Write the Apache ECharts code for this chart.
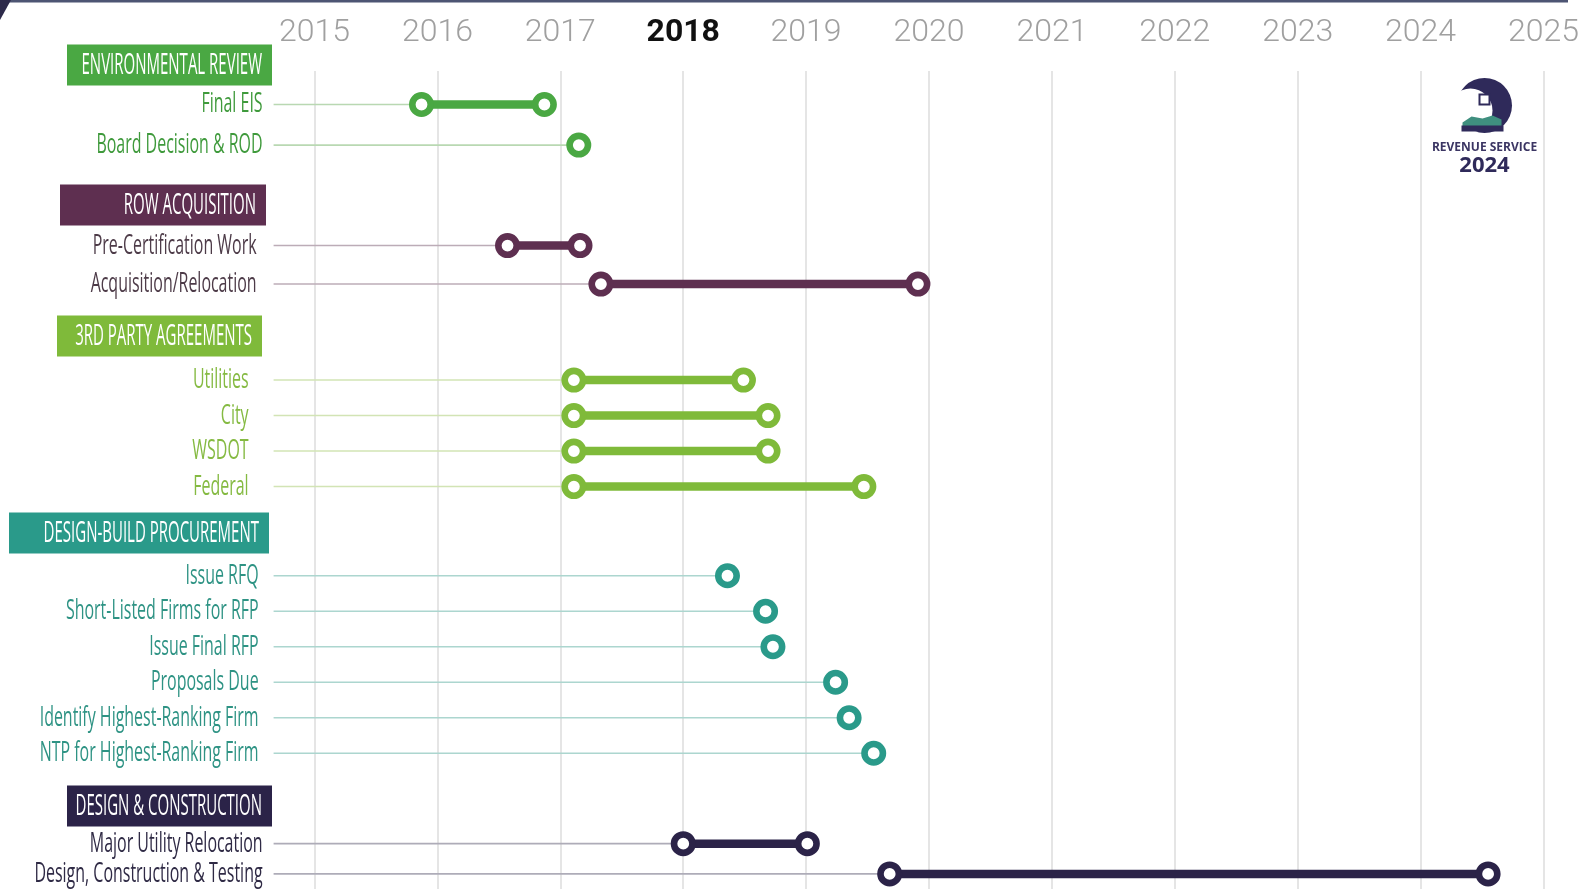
<!DOCTYPE html>
<html>
<head>
<meta charset="utf-8">
<script src="https://cdn.jsdelivr.net/npm/echarts@6/dist/echarts.min.js"></script>
<style>html,body{margin:0;padding:0;background:#fff;}#chart{width:1591px;height:889px;}</style>
</head>
<body>
<div id="chart"></div>
<script>
// ---- data ----
const years = [2015, 2016, 2017, 2018, 2019, 2020, 2021, 2022, 2023, 2024, 2025];
const highlightYear = 2018;

const groupTitles = ['ENVIRONMENTAL REVIEW', 'ROW ACQUISITION', '3RD PARTY AGREEMENTS', 'DESIGN-BUILD PROCUREMENT', 'DESIGN & CONSTRUCTION'];

const envRows  = ['Final EIS', 'Board Decision & ROD'];
const envStart = [2015.87, 2017.15];
const envEnd   = [2016.87, null];

const rowRows  = ['Pre-Certification Work', 'Acquisition/Relocation'];
const rowStart = [2016.57, 2017.33];
const rowEnd   = [2017.16, 2019.91];

const tpaRows  = ['Utilities', 'City', 'WSDOT', 'Federal'];
const tpaStart = [2017.11, 2017.11, 2017.11, 2017.11];
const tpaEnd   = [2018.49, 2018.69, 2018.69, 2019.47];

const dbpRows  = ['Issue RFQ', 'Short-Listed Firms for RFP', 'Issue Final RFP', 'Proposals Due', 'Identify Highest-Ranking Firm', 'NTP for Highest-Ranking Firm'];
const dbpStart = [2018.36, 2018.67, 2018.73, 2019.24, 2019.35, 2019.55];
const dbpEnd   = [null, null, null, null, null, null];

const dcRows   = ['Major Utility Relocation', 'Design, Construction & Testing'];
const dcStart  = [2018.00, 2019.68];
const dcEnd    = [2019.01, 2024.55];

const badgeTitle = 'REVENUE SERVICE';
const badgeYear = '2024';

// ---- styles / layout ----
const groups = [
  {rows: envRows, start: envStart, end: envEnd, color: '#4aa843', text: '#3f9a3c', guide: '#b9d8b2',
   top: 84.2, rowH: 40.6, labelGap: 52, box: [67, 272, 65]},
  {rows: rowRows, start: rowStart, end: rowEnd, color: '#5e2f50', text: '#4d3b48', guide: '#bcacb7',
   top: 226.3, rowH: 38.5, labelGap: 58, box: [60, 266, 205]},
  {rows: tpaRows, start: tpaStart, end: tpaEnd, color: '#7fba3a', text: '#85ba42', guide: '#d2e4b5',
   top: 362.3, rowH: 35.5, labelGap: 66, box: [57, 262, 336]},
  {rows: dbpRows, start: dbpStart, end: dbpEnd, color: '#2a9a8a', text: '#2e9384', guide: '#acd6cf',
   top: 558, rowH: 35.5, labelGap: 56, box: [9, 269, 533]},
  {rows: dcRows, start: dcStart, end: dcEnd, color: '#2b2348', text: '#2f2a45', guide: '#aeacb8',
   top: 828.5, rowH: 35, labelGap: 52, box: [67, 272, 806]}
];
const GL = 314.6, GR = 47.6;
const labelFont = '28px "Open Sans", "Noto Sans", sans-serif';
const labelScale = 0.57;
const headFont = '30px "Open Sans", "Noto Sans", sans-serif';
const headScale = 0.5;
const yearFont = 'Roboto, "Liberation Sans", sans-serif';

const grids = [{left: GL, right: GR, top: 71, bottom: 0}];
const xAxes = [{
  gridIndex: 0, type: 'value', position: 'top', min: years[0], max: years[years.length - 1], interval: 1,
  axisLine: {show: false}, axisTick: {show: false},
  splitLine: {show: true, lineStyle: {color: '#dddddd', width: 1.5}},
  axisLabel: {
    margin: 22,
    formatter: v => v === highlightYear ? '{b|' + v + '}' : '{n|' + v + '}',
    rich: {
      n: {fontSize: 32, color: '#a0a0a0', fontWeight: 300, fontFamily: yearFont},
      b: {fontSize: 32, color: '#111111', fontWeight: 'bold', fontFamily: yearFont}
    }
  }
}];
const yAxes = [{gridIndex: 0, type: 'value', show: false, splitLine: {show: false}}];
const series = [];

groups.forEach((g, gi) => {
  const idx = gi + 1;
  grids.push({left: GL, right: GR, top: g.top, height: g.rowH * g.rows.length});
  xAxes.push({gridIndex: idx, type: 'value', min: years[0], max: years[years.length - 1], show: false, splitLine: {show: false}});
  yAxes.push({gridIndex: idx, type: 'category', inverse: true, data: g.rows, show: false});
  series.push({
    type: 'custom',
    name: groupTitles[gi],
    xAxisIndex: idx, yAxisIndex: idx,
    clip: false,
    encode: {x: [0, 1], y: 2},
    data: g.rows.map((name, i) => [g.start[i], g.end[i] == null ? g.start[i] : g.end[i], i]),
    renderItem: (params, api) => {
      const s = api.value(0), e = api.value(1), r = api.value(2);
      const p0 = api.coord([s, r]);
      const p1 = api.coord([e, r]);
      const cs = params.coordSys;
      const y = p0[1];
      const children = [];
      children.push({type: 'line', shape: {x1: cs.x - 41, y1: y, x2: p0[0], y2: y}, style: {stroke: g.guide, lineWidth: 1.6}});
      if (e > s) {
        children.push({type: 'line', shape: {x1: p0[0], y1: y, x2: p1[0], y2: y}, style: {stroke: g.color, lineWidth: 8.5}});
      }
      children.push({type: 'circle', shape: {cx: p0[0], cy: y, r: 9.2}, style: {fill: '#fff', stroke: g.color, lineWidth: 6.6}});
      if (e > s) {
        children.push({type: 'circle', shape: {cx: p1[0], cy: y, r: 9.2}, style: {fill: '#fff', stroke: g.color, lineWidth: 6.6}});
      }
      children.push({type: 'text', x: cs.x - g.labelGap, y: y, scaleX: labelScale,
        style: {text: g.rows[params.dataIndex], x: 0, y: 0, align: 'right', verticalAlign: 'middle', font: labelFont, fill: g.text}});
      return {type: 'group', children: children};
    }
  });
});

const graphics = [
  {type: 'line', shape: {x1: 0, y1: 1, x2: 1568, y2: 1}, style: {stroke: '#4d5573', lineWidth: 3}},
  {type: 'polygon', shape: {points: [[0, 0], [11, 0], [0, 20]]}, style: {fill: '#2d2a4a'}}
];
const BOX_H = 41;
groups.forEach((g, gi) => {
  const [bl, br, cy] = g.box;
  graphics.push({type: 'rect', shape: {x: bl, y: cy - BOX_H / 2, width: br - bl, height: BOX_H}, style: {fill: g.color}});
  graphics.push({type: 'text', x: br - 10, y: cy, scaleX: headScale,
    style: {text: groupTitles[gi], x: 0, y: 0, align: 'right', verticalAlign: 'middle', font: headFont, fill: '#fff'}});
});
// badge
const BX = 1484.5, BY = 105.5;
graphics.push(
  {type: 'circle', shape: {cx: BX, cy: BY, r: 27.5}, style: {fill: '#2f2a5a'}},
  {type: 'circle', shape: {cx: BX - 14, cy: BY + 5, r: 22}, style: {fill: '#fff'}},
  {type: 'polygon', shape: {points: [[BX - 22, BY + 17], [BX - 13, BY + 11], [BX - 2, BY + 13], [BX + 8, BY + 10], [BX + 17, BY + 14], [BX + 17, BY + 21], [BX - 22, BY + 21]]}, style: {fill: '#3f8f7f'}},
  {type: 'rect', shape: {x: BX - 23, y: BY + 20, width: 42, height: 6}, style: {fill: '#2f2a5a'}},
  {type: 'rect', shape: {x: BX - 5, y: BY - 11, width: 10, height: 10}, style: {fill: '#fff', stroke: '#2f2a5a', lineWidth: 2}},
  {type: 'text', x: BX, y: BY + 42, style: {text: badgeTitle, align: 'center', verticalAlign: 'middle', font: 'bold 12px "Open Sans", sans-serif', fill: '#3b3563'}},
  {type: 'text', x: BX, y: BY + 60, style: {text: badgeYear, align: 'center', verticalAlign: 'middle', font: 'bold 22px "Open Sans", sans-serif', fill: '#2f2a5a'}}
);

const chart = echarts.init(document.getElementById('chart'));
chart.setOption({
  animation: false,
  backgroundColor: '#fff',
  grid: grids,
  xAxis: xAxes,
  yAxis: yAxes,
  series: series,
  graphic: graphics
});
</script>
</body>
</html>
